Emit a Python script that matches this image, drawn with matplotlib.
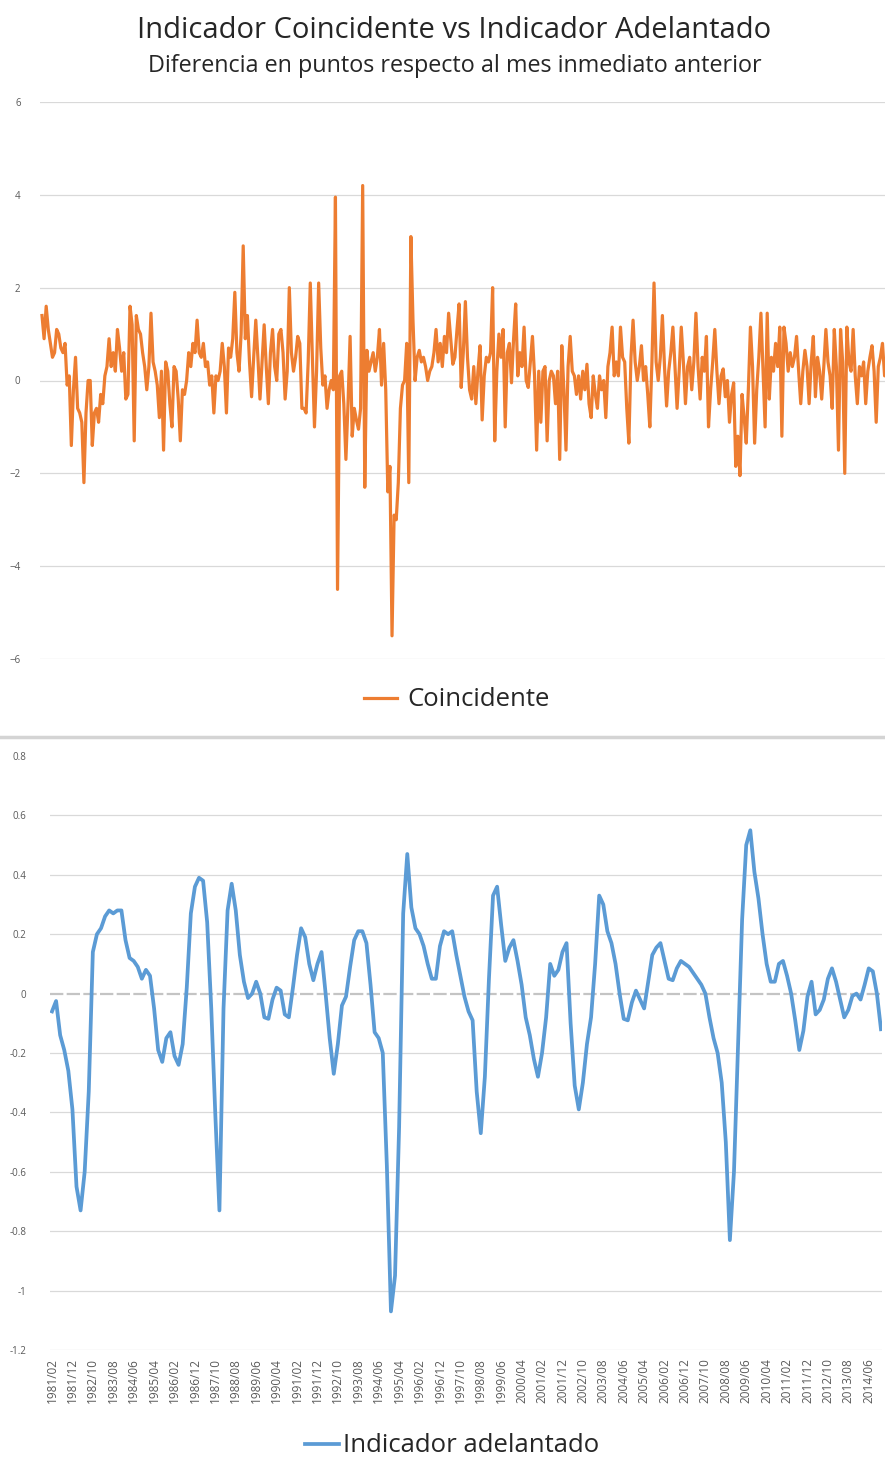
import matplotlib.pyplot as plt
import numpy as np
from matplotlib.lines import Line2D

plt.rcParams['font.family'] = ['Open Sans', 'DejaVu Sans']

# series start at 1981/02; coincidente is monthly, adelantado read every 2 months
start_year, start_month = 1981, 2
step_coinc = 1
step_adel = 2

coincidente = [
    1.4, 0.9, 1.6, 1.1, 0.8, 0.5, 0.6, 1.1, 1.0, 0.7,
    0.6, 0.8, -0.1, 0.1, -1.4, -0.2, 0.5, -0.6, -0.7, -0.9,
    -2.2, -0.7, 0.0, 0.0, -1.4, -0.7, -0.6, -0.9, -0.3, -0.5,
    0.1, 0.3, 0.9, 0.3, 0.6, 0.2, 1.1, 0.7, 0.2, 0.6,
    -0.4, -0.3, 1.6, 1.2, -1.3, 1.4, 1.1, 1.0, 0.6, 0.3,
    -0.2, 0.3, 1.45, 0.4, 0.2, -0.1, -0.8, 0.2, -1.5, 0.4,
    0.2, -0.5, -1.0, 0.3, 0.2, -0.4, -1.3, -0.2, -0.3, 0.0,
    0.6, 0.3, 0.8, 0.6, 1.3, 0.6, 0.5, 0.8, 0.3, 0.4,
    -0.1, 0.1, -0.7, 0.1, 0.0, 0.2, 0.8, 0.3, -0.7, 0.7,
    0.5, 0.9, 1.9, 0.6, 0.2, 1.0, 2.9, 0.9, 1.4, 0.4,
    -0.35, 0.5, 1.3, 0.5, -0.4, 0.4, 1.2, 0.3, -0.5, 0.6,
    1.1, 0.3, 0.0, 1.0, 1.1, 0.6, -0.4, 0.2, 2.0, 0.6,
    0.2, 0.5, 0.95, 0.8, -0.6, -0.6, -0.7, 0.4, 2.1, 0.5,
    -1.0, 0.2, 2.1, 0.7, -0.1, 0.1, -0.6, -0.2, 0.0, -0.2,
    3.95, -4.5, 0.1, 0.2, -0.5, -1.7, -0.5, 0.95, -1.2, -0.6,
    -0.85, -1.05, -0.6, 4.2, -2.3, 0.65, 0.2, 0.4, 0.6, 0.2,
    0.5, 1.1, -0.1, 0.8, -0.2, -2.4, -1.85, -5.5, -2.9, -3.0,
    -2.2, -0.6, -0.1, 0.0, 0.8, -2.2, 3.1, 1.3, 0.0, 0.5,
    0.65, 0.4, 0.5, 0.3, 0.0, 0.2, 0.3, 0.6, 1.1, 0.4,
    0.8, 0.3, 0.95, 0.6, 1.45, 0.9, 0.35, 0.5, 1.1, 1.65,
    -0.15, 0.6, 1.7, 0.5, -0.2, -0.4, 0.3, -0.5, 0.2, 0.75,
    -0.85, 0.1, 0.5, 0.4, 0.6, 2.0, -1.3, 0.2, 1.0, 0.5,
    1.1, -1.0, 0.6, 0.8, -0.05, 0.9, 1.65, 0.1, 0.6, 0.3,
    1.15, 0.0, -0.15, 0.4, 0.95, 0.1, -1.5, 0.2, -0.9, 0.2,
    0.3, -1.3, 0.0, 0.2, 0.1, -0.5, 0.2, -1.7, 0.75, -0.2,
    -1.5, 0.3, 0.95, 0.2, 0.1, -0.3, 0.1, -0.4, 0.2, -0.2,
    0.35, -0.5, -0.8, 0.1, -0.3, -0.6, 0.1, -0.2, 0.0, -0.8,
    0.3, 0.6, 1.15, 0.1, 0.4, 0.1, 1.15, 0.5, 0.4, -0.6,
    -1.35, 0.5, 1.3, 0.4, 0.0, 0.3, 0.75, 0.0, 0.3, -0.3,
    -1.0, 0.4, 2.1, 0.4, 0.0, 0.5, 1.4, 0.3, -0.55, 0.2,
    0.6, 1.15, 0.3, -0.6, 0.2, 1.15, 0.4, -0.5, 0.3, 0.5,
    -0.2, 0.4, 1.45, 0.3, -0.4, 0.5, 0.2, 0.95, -1.0, -0.2,
    0.4, 1.1, 0.2, -0.5, 0.1, 0.25, -0.35, 0.0, -0.9, -0.3,
    -0.05, -1.85, -1.2, -2.05, -0.3, -0.8, -1.35, -0.2, 1.15, 0.3,
    -1.35, -0.2, 0.5, 1.45, 0.2, -1.0, 1.45, -0.4, 0.5, 0.2,
    0.8, 0.3, 1.15, -1.2, 1.15, 0.8, 0.2, 0.6, 0.3, 0.5,
    0.95, 0.2, -0.5, 0.2, 0.65, 0.3, -0.5, 0.4, 0.95, -0.35,
    0.5, 0.2, -0.4, 0.3, 1.1, 0.4, 0.1, -0.6, 1.1, 0.3,
    -1.5, 1.1, 0.4, -2.0, 1.15, 0.4, 0.2, 1.1, 0.1, -0.5,
    0.3, 0.1, 0.4, -0.5, 0.2, 0.5, 0.75, 0.2, -0.9, 0.3,
    0.5, 0.8, 0.1, 0.6, 0.9, 0.4, 0.8,
]

adelantado = [
    -0.06, -0.025, -0.14, -0.19, -0.26, -0.39, -0.65, -0.73, -0.6, -0.33,
    0.14, 0.2, 0.22, 0.26, 0.28, 0.27, 0.28, 0.28, 0.18, 0.12,
    0.11, 0.09, 0.05, 0.08, 0.06, -0.05, -0.19, -0.23, -0.15, -0.13,
    -0.21, -0.24, -0.17, 0.02, 0.27, 0.36, 0.39, 0.38, 0.24, -0.05,
    -0.41, -0.73, -0.05, 0.28, 0.37, 0.28, 0.13, 0.04, -0.015, 0.0,
    0.04, 0.0, -0.08, -0.085, -0.02, 0.02, 0.01, -0.07, -0.08, 0.02,
    0.13, 0.22, 0.19, 0.1, 0.045, 0.1, 0.14, 0.0, -0.15, -0.27,
    -0.17, -0.04, -0.01, 0.09, 0.18, 0.21, 0.21, 0.17, 0.03, -0.13,
    -0.15, -0.2, -0.58, -1.07, -0.95, -0.45, 0.27, 0.47, 0.29, 0.22,
    0.2, 0.16, 0.1, 0.05, 0.05, 0.16, 0.21, 0.2, 0.21, 0.13,
    0.06, -0.01, -0.06, -0.09, -0.33, -0.47, -0.28, 0.05, 0.33, 0.36,
    0.23, 0.11, 0.155, 0.18, 0.11, 0.03, -0.08, -0.14, -0.22, -0.28,
    -0.2, -0.08, 0.1, 0.06, 0.08, 0.14, 0.17, -0.1, -0.31, -0.39,
    -0.3, -0.17, -0.08, 0.1, 0.33, 0.3, 0.21, 0.17, 0.1, 0.0,
    -0.085, -0.09, -0.03, 0.01, -0.02, -0.05, 0.04, 0.13, 0.155, 0.17,
    0.11, 0.05, 0.045, 0.085, 0.11, 0.1, 0.09, 0.07, 0.05, 0.03,
    0.0, -0.08, -0.15, -0.2, -0.3, -0.5, -0.83, -0.6, -0.17, 0.25,
    0.5, 0.55, 0.41, 0.32, 0.2, 0.1, 0.04, 0.04, 0.1, 0.11,
    0.06, 0.0, -0.09, -0.19, -0.125, -0.01, 0.04, -0.07, -0.055, -0.02,
    0.05, 0.085, 0.04, -0.02, -0.08, -0.055, -0.008, 0.0, -0.02, 0.03,
    0.085, 0.075, 0.0, -0.12,
]

y1_ticks = [-6, -4, -2, 0, 2, 4, 6]
y2_ticks = [-1.2, -1.0, -0.8, -0.6, -0.4, -0.2, 0.0, 0.2, 0.4, 0.6, 0.8]
y2_labels = ['-1.2', '-1', '-0.8', '-0.6', '-0.4', '-0.2', '0', '0.2', '0.4', '0.6', '0.8']


def month_label(m):
    k = start_month - 1 + m
    return "%d/%02d" % (start_year + k // 12, k % 12 + 1)


tick_months = list(range(0, 401, 10))
tick_labels = [month_label(m) for m in tick_months]

W, H = 885, 1460
fig = plt.figure(figsize=(W / 100, H / 100), dpi=100)


def box(left, top, right, bottom):
    return [left / W, 1 - bottom / H, (right - left) / W, (bottom - top) / H]


grid_c = '#d9d9d9'
lab_c = '#595959'

# top chart: coincidente
ax1 = fig.add_axes(box(40, 102, 885, 659))
x1 = np.arange(len(coincidente)) * step_coinc
ax1.plot(x1, coincidente, color='#ED7D31', lw=2.3, label='Coincidente')
ax1.set_xlim(-0.95, 402.2)
ax1.set_ylim(-6, 6)
ax1.set_yticks(y1_ticks)
ax1.set_xticks([])
ax1.grid(axis='y', color=grid_c, lw=0.9)
ax1.set_axisbelow(True)
for s in ax1.spines.values():
    s.set_visible(False)
ax1.tick_params(axis='y', length=0, labelsize=7, labelcolor=lab_c, pad=14)

fig.text(0.513, 1 - 30 / H, 'Indicador Coincidente vs Indicador Adelantado',
         ha='center', va='center', fontsize=21, color='#262626')
fig.text(0.514, 1 - 66 / H, 'Diferencia en puntos respecto al mes inmediato anterior',
         ha='center', va='center', fontsize=16.8, color='#262626')
fig.legend(*ax1.get_legend_handles_labels(), loc='center',
           bbox_to_anchor=(457 / W, 1 - 700 / H), frameon=False, fontsize=18.5,
           handlelength=1.3, handletextpad=0.4, labelcolor='#262626')

# separator between the two charts
fig.add_artist(Line2D([0, 1], [1 - 737 / H] * 2, transform=fig.transFigure,
                      color='#d4d4d4', lw=2.5))

# bottom chart: adelantado
ax2 = fig.add_axes(box(50, 756, 882, 1350))
x2 = np.arange(len(adelantado)) * step_adel
for v in y2_ticks:
    if v == 0.8:
        continue
    if v == 0:
        ax2.axhline(0, color='#c4c4c4', lw=1.6, ls=(0, (6, 1.5)), zorder=1)
    else:
        ax2.axhline(v, color=grid_c, lw=0.9, zorder=1)
ax2.plot(x2, adelantado, color='#5B9BD5', lw=2.7, solid_joinstyle='round',
         label='Indicador adelantado', zorder=3)
ax2.set_xlim(-0.98, 406.5)
ax2.set_ylim(-1.2, 0.8)
ax2.set_yticks(y2_ticks, y2_labels)
ax2.set_xticks(tick_months, tick_labels, rotation=90)
for s in ax2.spines.values():
    s.set_visible(False)
ax2.tick_params(axis='y', length=0, labelsize=7, labelcolor=lab_c, pad=17)
ax2.tick_params(axis='x', length=0, labelsize=8.5, labelcolor=lab_c, pad=6)

fig.legend(*ax2.get_legend_handles_labels(), loc='center',
           bbox_to_anchor=(452 / W, 1 - 1446 / H), frameon=False, fontsize=18.5,
           handlelength=1.3, handletextpad=0.15, labelcolor='#262626')

fig.savefig('out.png', dpi=100)
